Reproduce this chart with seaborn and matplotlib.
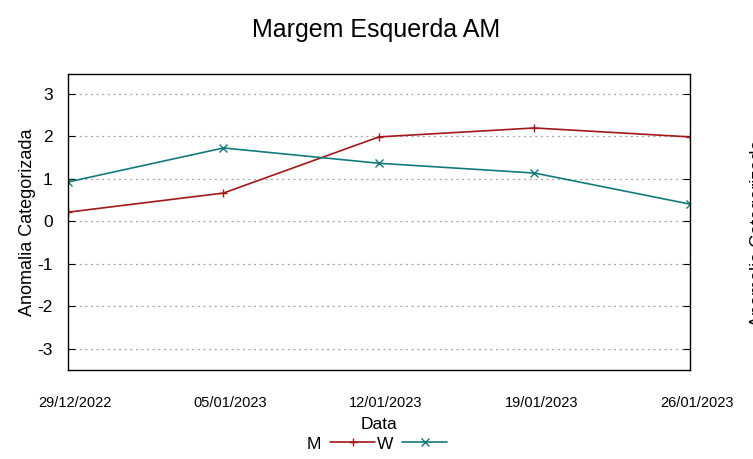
import pandas as pd
import seaborn as sns
import matplotlib.pyplot as plt
from matplotlib.transforms import ScaledTranslation

# dados
datas = ["2022-12-29", "2023-01-05", "2023-01-12", "2023-01-19", "2023-01-26"]
valores_m = [0.21, 0.66, 1.98, 2.19, 1.98]
valores_w = [0.92, 1.72, 1.36, 1.13, 0.40]
rotulos_x = ["29/12/2022", "05/01/2023", "12/01/2023", "19/01/2023", "26/01/2023"]
yticks = [-3, -2, -1, 0, 1, 2, 3]

df = pd.DataFrame({
    "Data": pd.to_datetime(datas * 2),
    "Anomalia": valores_m + valores_w,
    "Serie": ["M"] * len(datas) + ["W"] * len(datas),
})

sns.set_theme(style="white")
plt.rcParams["font.family"] = ["Liberation Sans", "DejaVu Sans"]
plt.rcParams["text.color"] = "black"
plt.rcParams["axes.labelcolor"] = "black"
plt.rcParams["xtick.color"] = "black"
plt.rcParams["ytick.color"] = "black"

fig = plt.figure(figsize=(7.53, 4.59), dpi=100)
ax = fig.add_axes([0.0903, 0.1939, 0.826, 0.645])

cores = {"M": "#a01818", "W": "#137a7a"}
sns.lineplot(data=df, x="Data", y="Anomalia", hue="Serie", style="Serie",
             markers={"M": "+", "W": "x"}, dashes=False, palette=cores,
             linewidth=1.2, markersize=6, ax=ax)
for ln in ax.get_lines():
    ln.set_markeredgecolor(ln.get_color())
    ln.set_markeredgewidth(1.0)

ax.set_xlim(pd.Timestamp(datas[0]), pd.Timestamp(datas[-1]))
ax.set_ylim(-3.5, 3.46)
ax.set_yticks(yticks)
ax.set_yticklabels([str(v) for v in yticks], fontsize=12.5)
ax.set_xticks(pd.to_datetime(datas))
ax.set_xticklabels(rotulos_x, fontsize=10.5)

ax.tick_params(axis="y", direction="in", length=5, width=0.8, right=True, left=True, pad=11)
ax.tick_params(axis="x", direction="in", length=0, pad=19)
# rotulos de data um pouco deslocados para a direita, como no original
off = ScaledTranslation(7 / 100, 0, fig.dpi_scale_trans)
for lab in ax.get_xticklabels():
    lab.set_transform(lab.get_transform() + off)

for s in ax.spines.values():
    s.set_color("black")
    s.set_linewidth(1.0)
ax.yaxis.grid(True, linestyle=(0, (1.5, 3)), color="#a0a0a0", linewidth=0.9)
ax.xaxis.grid(False)

ax.set_xlabel("Data", fontsize=12.5, labelpad=5)
ax.set_ylabel("Anomalia Categorizada", fontsize=13, labelpad=1)
fig.suptitle("Margem Esquerda AM", fontsize=18, y=0.96)

handles, labels = ax.get_legend_handles_labels()
for h in handles:
    h.set_markeredgecolor(h.get_color())
ax.legend(handles, labels, loc="upper center", bbox_to_anchor=(0.497, -0.195),
          ncol=2, frameon=False, markerfirst=False, fontsize=12.5,
          handlelength=2.6, columnspacing=0.1, handletextpad=0.5, borderpad=0)

# rotulo do eixo secundario, cortado na borda
fig.text(0.9962, 0.492, "Anomalia Categorizada", rotation=90, fontsize=13,
         ha="left", va="center")

fig.savefig("out.png", dpi=100)
